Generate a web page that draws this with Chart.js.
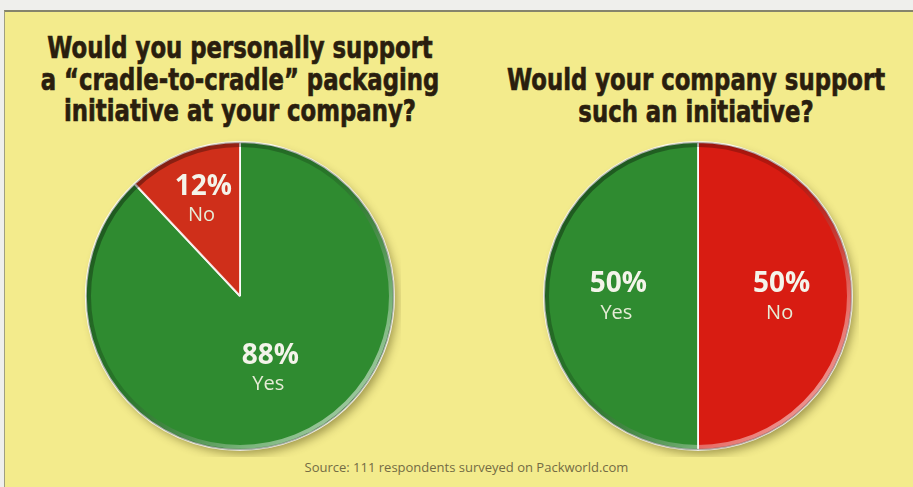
<!DOCTYPE html>
<html>
<head>
<meta charset="utf-8">
<script src="https://cdn.jsdelivr.net/npm/chart.js@4.4.1/dist/chart.umd.min.js"></script>
<style>
  html, body { margin: 0; padding: 0; background: #efefec; width: 913px; height: 487px; overflow: hidden; }
  #panel {
    position: absolute; left: 4px; top: 10px; width: 915px; height: 480px;
    background: #f3eb8c;
    border-top: 2px solid #85846c; border-left: 1px solid #a09f80;
  }
  .title {
    position: absolute; text-align: center; white-space: nowrap;
    font-family: "DejaVu Sans", sans-serif;
    font-weight: bold; font-size: 30px; line-height: 31.5px;
    color: #2a1e0e; -webkit-text-stroke: 0.7px #2a1e0e;
    transform: scaleX(0.76); transform-origin: 50% 0;
  }
  .pie { position: absolute; width: 322px; height: 322px; }
  #source {
    position: absolute; left: 0; width: 933px; top: 458px; text-align: center;
    font-family: "Open Sans", "Noto Sans", sans-serif; font-size: 13px; color: #736b44;
  }
</style>
</head>
<body>
<div id="panel"></div>
<div class="title" style="left:-60px; width:600px; top:32px;">Would you personally support<br>a “cradle-to-cradle” packaging<br>initiative at your company?</div>
<div class="title" style="left:396px; width:600px; top:64px;">Would your company support<br>such an initiative?</div>
<div class="pie" style="left:79px; top:135px;"><canvas id="pie1"></canvas></div>
<div class="pie" style="left:537px; top:135px;"><canvas id="pie2"></canvas></div>
<div id="source">Source: 111 respondents surveyed on Packworld.com</div>

<script>
// question 1: personal support
const labels1 = ['Yes', 'No'];
const values1 = [88, 12];
const colors1 = ['#2f8b30', '#cf2f1a'];

// question 2: company support
const labels2 = ['No', 'Yes'];
const values2 = [50, 50];
const colors2 = ['#d81c12', '#2f8b30'];

// drop shadow under the disc and a bevelled rim on top
const bevel = {
  id: 'bevel',
  beforeDatasetsDraw(chart) {
    const arc = chart.getDatasetMeta(0).data[0];
    const ctx = chart.ctx;
    ctx.save();
    ctx.shadowColor = 'rgba(60,50,0,0.45)';
    ctx.shadowBlur = 10;
    ctx.shadowOffsetX = 4;
    ctx.shadowOffsetY = 5;
    ctx.fillStyle = '#2f8b30';
    ctx.beginPath();
    ctx.arc(arc.x, arc.y, arc.outerRadius - 1, 0, Math.PI * 2);
    ctx.fill();
    ctx.restore();
  },
  afterDatasetsDraw(chart) {
    const arc = chart.getDatasetMeta(0).data[0];
    const ctx = chart.ctx;
    const r = arc.outerRadius;
    ctx.save();
    const g = ctx.createLinearGradient(arc.x - r, arc.y - r, arc.x + r, arc.y + r);
    g.addColorStop(0, 'rgba(0,0,0,0.45)');
    g.addColorStop(0.45, 'rgba(0,0,0,0.15)');
    g.addColorStop(0.75, 'rgba(255,255,255,0.35)');
    g.addColorStop(1, 'rgba(255,255,255,0.75)');
    ctx.strokeStyle = g;
    ctx.lineWidth = 4;
    ctx.beginPath();
    ctx.arc(arc.x, arc.y, r - 3, 0, Math.PI * 2);
    ctx.stroke();
    ctx.strokeStyle = 'rgba(0,0,0,0.25)';
    ctx.lineWidth = 1.5;
    ctx.beginPath();
    ctx.arc(arc.x, arc.y, r - 0.5, 0, Math.PI * 2);
    ctx.stroke();
    ctx.restore();
  }
};

// percentage + answer label inside each slice
const sliceLabels = {
  id: 'sliceLabels',
  afterDraw(chart, args, opts) {
    const ctx = chart.ctx;
    const ds = chart.data.datasets[0];
    chart.getDatasetMeta(0).data.forEach((arc, i) => {
      const mid = (arc.startAngle + arc.endAngle) / 2;
      const d = arc.outerRadius * opts.radius[i];
      const x = arc.x + Math.cos(mid) * d;
      const y = arc.y + Math.sin(mid) * d;
      ctx.save();
      ctx.textAlign = 'center';
      ctx.textBaseline = 'middle';
      ctx.fillStyle = '#f4f4ea';
      ctx.font = 'bold 28px "Open Sans", "Noto Sans", sans-serif';
      ctx.fillText(ds.data[i] + '%', x + 2, y - 12);
      ctx.fillStyle = '#e6ecd6';
      ctx.font = '20px "Open Sans", "Noto Sans", sans-serif';
      ctx.fillText(chart.data.labels[i], x, y + 17);
      ctx.restore();
    });
  }
};

function makePie(id, labels, values, colors, radius) {
  return new Chart(document.getElementById(id), {
    type: 'pie',
    data: {
      labels: labels,
      datasets: [{
        data: values,
        backgroundColor: colors,
        borderColor: 'rgba(255,255,255,0.85)',
        borderWidth: 2,
        hoverOffset: 0
      }]
    },
    options: {
      responsive: true,
      maintainAspectRatio: false,
      animation: false,
      layout: { padding: 6 },
      plugins: {
        legend: { display: false },
        tooltip: { enabled: false },
        sliceLabels: { radius: radius }
      }
    },
    plugins: [bevel, sliceLabels]
  });
}

makePie('pie1', labels1, values1, colors1, [0.5, 0.68]);
makePie('pie2', labels2, values2, colors2, [0.53, 0.53]);
</script>
</body>
</html>
